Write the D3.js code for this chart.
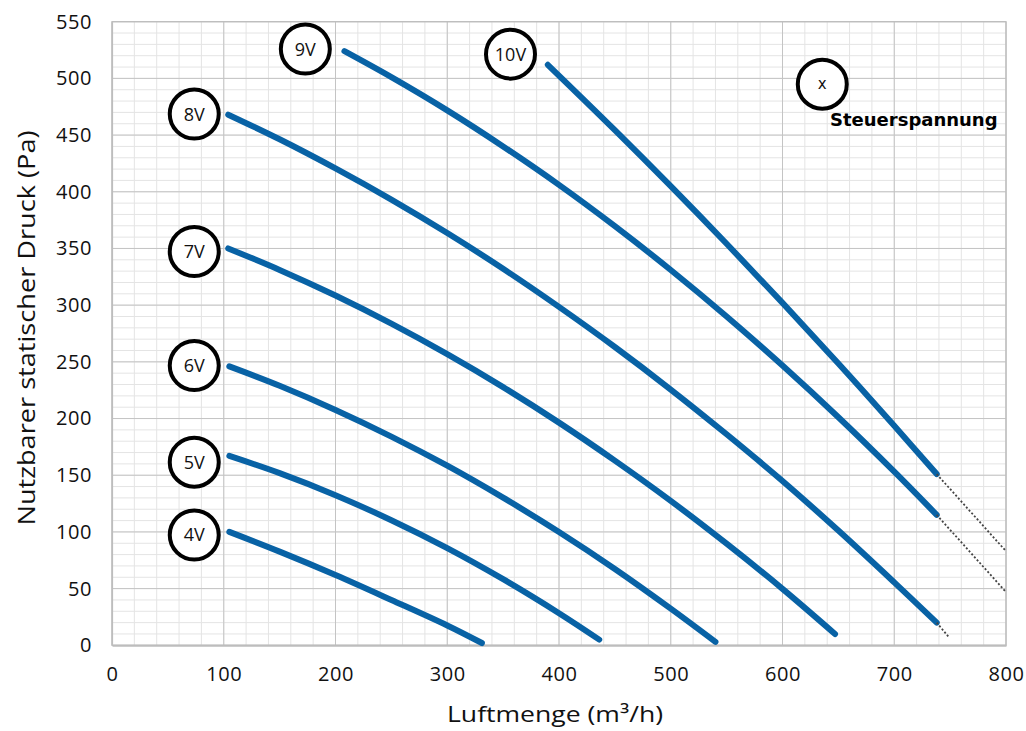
<!DOCTYPE html>
<html>
<head>
<meta charset="utf-8">
<script src="https://cdn.jsdelivr.net/npm/d3@7"></script>
<style>
  html, body { margin: 0; padding: 0; background: #fff; }
  svg { display: block; }
</style>
</head>
<body>
<svg id="chart" width="1026" height="731"></svg>
<script>
// ---- data (x: Luftmenge m³/h, y: Druck Pa) ----
const xTicks = [0, 100, 200, 300, 400, 500, 600, 700, 800];
const yTicks = [0, 50, 100, 150, 200, 250, 300, 350, 400, 450, 500, 550];
const seriesNames = ["4V", "5V", "6V", "7V", "8V", "9V", "10V"];
const curve4V = [[105,100],[150,82.6],[200,62],[250,40],[300,17.5],[331,2]];
const curve5V = [[105,167],[150,151.8],[200,132.4],[250,110.3],[300,85.7],[350,58.3],[400,28.3],[436,5]];
const curve6V = [[105,246],[150,228.9],[200,207.6],[250,184.1],[300,158.4],[350,130.2],[400,99.9],[450,67.3],[500,32.3],[540,3]];
const curve7V = [[104,350],[150,331.1],[200,308.5],[250,283.7],[300,256.8],[350,227.7],[400,196.4],[450,162.9],[500,127.4],[550,89.6],[600,49.8],[647,10]];
const curve8V = [[104,468],[150,446.3],[200,420.6],[250,393.1],[300,363.6],[350,332.1],[400,298.5],[450,263.1],[500,225.6],[550,186.1],[600,144.9],[650,101.2],[700,55.5],[738,20]];
const curve9V = [[208,524],[250,501.1],[300,471.8],[350,440],[400,406.1],[450,369.7],[500,331],[550,290],[600,246.7],[650,201.1],[700,153.1],[738,115]];
const curve10V = [[390,512],[450,454.4],[500,405],[550,354.2],[600,302],[650,248.5],[700,193.6],[738,151]];
const ext8V = [[738,20],[749,7]];
const ext9V = [[738,115],[800,47]];
const ext10V = [[738,151],[800,83]];
// label anchors (data units)
const labelX = [73.6, 73.6, 73.6, 73.6, 73.6, 173, 356.6];
const labelY = [97.3, 161.5, 246.7, 347.3, 468.5, 525.9, 521.4];
const legendSymbol = "x";
const legendText = "Steuerspannung";
const legendAnchor = [635.6, 494.9];
const xTitle = "Luftmenge (m³/h)";
const yTitle = "Nutzbarer statischer Druck (Pa)";

const curves = [curve4V, curve5V, curve6V, curve7V, curve8V, curve9V, curve10V];
const extensions = [ext8V, ext9V, ext10V];

// ---- layout ----
const svg = d3.select("#chart");
const x = d3.scaleLinear().domain([0, 800]).range([112, 1006]);
const y = d3.scaleLinear().domain([0, 550]).range([645.3, 21.7]);
const FONT = "'Open Sans', 'Noto Sans', sans-serif";

// minor grid
const gGrid = svg.append("g");
gGrid.selectAll("line.vminor").data(d3.range(0, 801, 20)).enter().append("line")
  .attr("x1", d => x(d)).attr("x2", d => x(d)).attr("y1", y(550)).attr("y2", y(0))
  .attr("stroke", "#e4e4e4").attr("stroke-width", 1);
gGrid.selectAll("line.hminor").data(d3.range(0, 551, 10)).enter().append("line")
  .attr("x1", x(0)).attr("x2", x(800)).attr("y1", d => y(d)).attr("y2", d => y(d))
  .attr("stroke", "#e4e4e4").attr("stroke-width", 1);
// major grid
gGrid.selectAll("line.vmajor").data(xTicks).enter().append("line")
  .attr("x1", d => x(d)).attr("x2", d => x(d)).attr("y1", y(550)).attr("y2", y(0))
  .attr("stroke", "#c4c4c4").attr("stroke-width", 1);
gGrid.selectAll("line.hmajor").data(yTicks).enter().append("line")
  .attr("x1", x(0)).attr("x2", x(800)).attr("y1", d => y(d)).attr("y2", d => y(d))
  .attr("stroke", "#c4c4c4").attr("stroke-width", 1);
// frame
svg.append("rect").attr("x", x(0)).attr("y", y(550)).attr("width", x(800) - x(0)).attr("height", y(0) - y(550))
  .attr("fill", "none").attr("stroke", "#bdbdbd").attr("stroke-width", 1.2);

// axes (labels only)
const xAxis = d3.axisBottom(x).tickValues(xTicks).tickSize(0).tickPadding(22);
const gx = svg.append("g").attr("transform", `translate(0,${y(0)})`).call(xAxis);
gx.select(".domain").attr("stroke", "#bdbdbd").attr("stroke-width", 2);
gx.selectAll("text").attr("font-family", FONT).attr("font-size", 20).attr("letter-spacing", 0.6).attr("fill", "#111");

const yAxis = d3.axisLeft(y).tickValues(yTicks).tickSize(0).tickPadding(20);
const gy = svg.append("g").attr("transform", `translate(${x(0)},0)`).call(yAxis);
gy.select(".domain").attr("stroke", "#bdbdbd").attr("stroke-width", 1.2);
gy.selectAll("text").attr("font-family", FONT).attr("font-size", 20).attr("letter-spacing", 0.6).attr("fill", "#111");

// axis titles
svg.append("text").attr("x", 555).attr("y", 722).attr("text-anchor", "middle")
  .attr("font-family", FONT).attr("font-size", 22).attr("textLength", 216).attr("lengthAdjust", "spacingAndGlyphs")
  .attr("fill", "#111").text(xTitle);
svg.append("text").attr("transform", "translate(35,328) rotate(-90)").attr("text-anchor", "middle")
  .attr("font-family", FONT).attr("font-size", 23).attr("textLength", 395).attr("lengthAdjust", "spacingAndGlyphs")
  .attr("fill", "#111").text(yTitle);

// curves
const line = d3.line().x(d => x(d[0])).y(d => y(d[1])).curve(d3.curveCatmullRom.alpha(0.5));
svg.append("g").selectAll("path").data(curves).enter().append("path")
  .attr("d", line).attr("fill", "none").attr("stroke", "#0862a5")
  .attr("stroke-width", 6).attr("stroke-linecap", "round").attr("stroke-linejoin", "round");

// dotted extensions
const lineStraight = d3.line().x(d => x(d[0])).y(d => y(d[1]));
svg.append("g").selectAll("path").data(extensions).enter().append("path")
  .attr("d", lineStraight).attr("fill", "none").attr("stroke", "#444")
  .attr("stroke-width", 1.8).attr("stroke-dasharray", "2,2");

// circle labels
const gLab = svg.append("g");
seriesNames.forEach((name, i) => {
  const cx = x(labelX[i]), cy = y(labelY[i]);
  gLab.append("circle").attr("cx", cx).attr("cy", cy).attr("r", 24.5)
    .attr("fill", "#fff").attr("stroke", "#000").attr("stroke-width", 4);
  gLab.append("text").attr("x", cx).attr("y", cy).attr("dy", "0.36em").attr("text-anchor", "middle")
    .attr("font-family", FONT).attr("font-size", 18).attr("fill", "#111").text(name);
});
// legend
const lx = x(legendAnchor[0]), ly = y(legendAnchor[1]);
gLab.append("circle").attr("cx", lx).attr("cy", ly).attr("r", 24.5)
  .attr("fill", "#fff").attr("stroke", "#000").attr("stroke-width", 4);
gLab.append("text").attr("x", lx).attr("y", ly).attr("dy", "0.35em").attr("text-anchor", "middle")
  .attr("font-family", "'DejaVu Sans', sans-serif").attr("font-size", 15).attr("fill", "#111").text(legendSymbol);
gLab.append("text").attr("x", 830).attr("y", 126)
  .attr("font-family", "'DejaVu Sans', sans-serif").attr("font-weight", "bold").attr("font-size", 18)
  .attr("fill", "#000").text(legendText);
</script>
</body>
</html>
